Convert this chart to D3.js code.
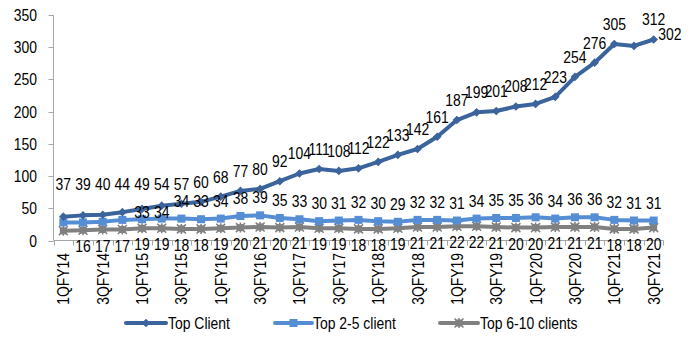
<!DOCTYPE html>
<html>
<head>
<meta charset="utf-8">
<script src="https://cdn.jsdelivr.net/npm/d3@7"></script>
<style>
  html, body { margin: 0; padding: 0; background: #fff; }
  svg { display: block; }
  text { font-family: "Liberation Sans", Arial, sans-serif; fill: #000; }
</style>
</head>
<body>
<svg id="chart" width="694" height="340"></svg>
<script>
// Quarterly revenue contribution of client buckets
const quarters = [
  "1QFY14","2QFY14","3QFY14","4QFY14",
  "1QFY15","2QFY15","3QFY15","4QFY15",
  "1QFY16","2QFY16","3QFY16","4QFY16",
  "1QFY17","2QFY17","3QFY17","4QFY17",
  "1QFY18","2QFY18","3QFY18","4QFY18",
  "1QFY19","2QFY19","3QFY19","4QFY19",
  "1QFY20","2QFY20","3QFY20","4QFY20",
  "1QFY21","2QFY21","3QFY21"
];
const topClient = [37,39,40,44,49,54,57,60,68,77,80,92,104,111,108,112,122,133,142,161,187,199,201,208,212,223,254,276,305,302,312];
const top2to5   = [28,28,29,32,33,34,34,33,34,38,39,35,33,30,31,32,30,29,32,32,31,34,35,35,36,34,36,36,32,31,31];
const top6to10  = [15,16,17,17,19,19,18,18,19,20,21,20,21,19,19,18,18,19,21,21,22,22,21,20,20,21,21,21,18,18,20];
const yTicks = [0,50,100,150,200,250,300,350];
const seriesNames = ["Top Client","Top 2-5 client","Top 6-10 clients"];

const FS = 17;         // font size
const NARROW = 0.82;   // horizontal squeeze for a narrow face

const svg = d3.select("#chart");

const x = d3.scaleBand().domain(quarters).range([53.5, 663.5]).paddingInner(0).paddingOuter(0);
const y = d3.scaleLinear().domain([0, 350]).range([240.5, 15]);
const cx = d => x(d) + x.bandwidth() / 2;

// helper: narrow text placed at (px,py)
function ntext(g, px, py, str, anchor, rot) {
  return g.append("text")
    .attr("transform", `translate(${px},${py})` + (rot ? ` rotate(${rot})` : "") + ` scale(${NARROW},1)`)
    .attr("text-anchor", anchor)
    .attr("font-size", FS)
    .text(str);
}

const axisColor = "#a6a6a6";

// y axis
const yAxis = svg.append("g");
yAxis.append("line").attr("x1", 53.5).attr("x2", 53.5).attr("y1", y(350)).attr("y2", y(0))
  .attr("stroke", axisColor).attr("stroke-width", 1);
yTicks.forEach(t => {
  yAxis.append("line").attr("x1", 48.5).attr("x2", 53.5).attr("y1", Math.round(y(t)) + 0.5).attr("y2", Math.round(y(t)) + 0.5)
    .attr("stroke", axisColor);
  ntext(yAxis, 37, y(t) + 6, String(t), "end");
});

// x axis
const xAxis = svg.append("g");
xAxis.append("line").attr("x1", 53.5).attr("x2", 663.5).attr("y1", y(0)).attr("y2", y(0))
  .attr("stroke", axisColor).attr("stroke-width", 1.2);
quarters.forEach((q, i) => {
  const bx = Math.round(x(q)) + 0.5;
  xAxis.append("line").attr("x1", bx).attr("x2", bx).attr("y1", y(0)).attr("y2", y(0) + 5).attr("stroke", axisColor);
  if (i === quarters.length - 1) {
    const ex = Math.round(x(q) + x.bandwidth()) + 0.5;
    xAxis.append("line").attr("x1", ex).attr("x2", ex).attr("y1", y(0)).attr("y2", y(0) + 5).attr("stroke", axisColor);
  }
  if (i % 2 === 0) {
    ntext(xAxis, cx(q) + 6, 253, q, "end", -90);
  }
});

// series definitions
const series = [
  { name: seriesNames[0], values: topClient, color: "#3a649b", marker: "diamond" },
  { name: seriesNames[1], values: top2to5,  color: "#558ed5", marker: "square" },
  { name: seriesNames[2], values: top6to10, color: "#808080", marker: "star" }
];

function drawMarker(g, type, px, py, color) {
  if (type === "diamond") {
    g.append("path").attr("d", d3.symbol(d3.symbolDiamond2, 48)()).attr("transform", `translate(${px},${py})`)
      .attr("fill", color);
  } else if (type === "square") {
    g.append("rect").attr("x", px - 4).attr("y", py - 4).attr("width", 8).attr("height", 8).attr("fill", color);
  } else {
    g.append("rect").attr("x", px - 3.5).attr("y", py - 3.5).attr("width", 7).attr("height", 7).attr("fill", color);
    g.append("path").attr("d", `M${px-4.5},${py-4.5}L${px+4.5},${py+4.5}M${px+4.5},${py-4.5}L${px-4.5},${py+4.5}M${px},${py-5}L${px},${py+5}`)
      .attr("stroke", color).attr("stroke-width", 1.5);
  }
}

const line = d3.line().x((d, i) => cx(quarters[i])).y(d => y(d));

// grey first, then light blue, then dark blue on top
[2, 1, 0].forEach(si => {
  const s = series[si];
  const g = svg.append("g");
  g.append("path").datum(s.values).attr("d", line)
    .attr("fill", "none").attr("stroke", s.color).attr("stroke-width", 4)
    .attr("stroke-linejoin", "round").attr("stroke-linecap", "round");
  s.values.forEach((v, i) => drawMarker(g, s.marker, cx(quarters[i]), y(v), s.color));
});

// data labels
const labels = svg.append("g");
topClient.forEach((v, i) => {
  let cyL = Math.min(y(v) - 20, 184);
  let dx = 0;
  if (i === 29) { dx = 36; cyL += 8; }
  ntext(labels, cx(quarters[i]) + dx, cyL + 6, String(v), "middle");
});
top2to5.forEach((v, i) => {
  if (i < 4) return;               // crowded by the first top-client labels
  let cyL = y(v) - 18;
  if (i === 4 || i === 5) cyL = y(v) - 7;
  ntext(labels, cx(quarters[i]), cyL + 6, String(v), "middle");
});
top6to10.forEach((v, i) => {
  if (i < 1) return;
  const cyL = y(v) + 16;
  ntext(labels, cx(quarters[i]), cyL + 6, String(v), "middle");
});

// legend
const legend = svg.append("g");
const legendItems = [
  { s: series[0], x0: 126, x1: 166, tx: 168 },
  { s: series[1], x0: 275, x1: 312, tx: 313 },
  { s: series[2], x0: 440, x1: 478, tx: 480 }
];
legendItems.forEach(it => {
  const ly = 323;
  legend.append("line").attr("x1", it.x0).attr("x2", it.x1).attr("y1", ly).attr("y2", ly)
    .attr("stroke", it.s.color).attr("stroke-width", 4).attr("stroke-linecap", "round");
  drawMarker(legend, it.s.marker, (it.x0 + it.x1) / 2, ly, it.s.color);
  ntext(legend, it.tx, ly + 6, it.s.name, "start");
});
</script>
</body>
</html>
